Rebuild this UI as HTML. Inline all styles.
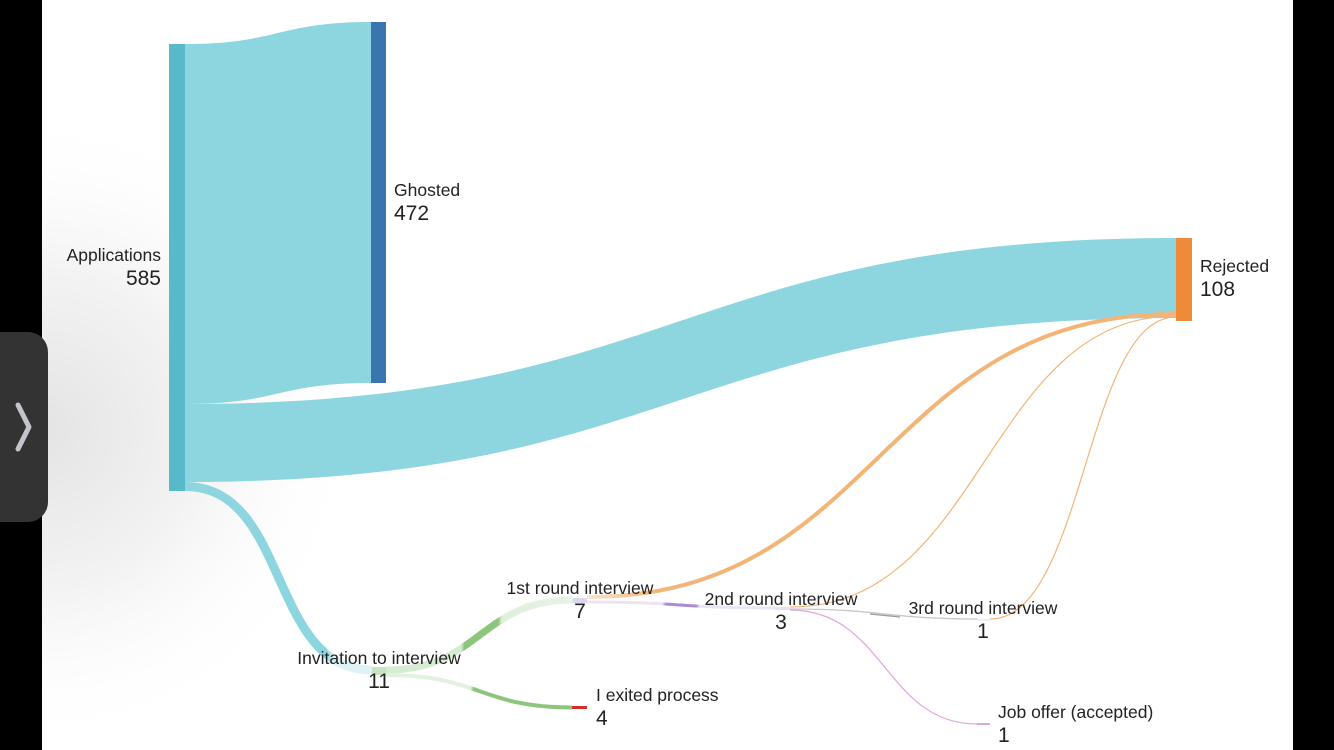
<!DOCTYPE html>
<html><head><meta charset="utf-8">
<style>
html,body{margin:0;padding:0;background:#000;}
#wrap{position:relative;width:1334px;height:750px;overflow:hidden;background:#000;}
#page{position:absolute;left:42px;top:0;width:1251px;height:750px;background:#fff;}
svg{position:absolute;left:0;top:0;}
.t{font-family:"Liberation Sans",Arial,sans-serif;fill:#222;}
</style></head><body>
<div id="wrap">
<div id="page"></div>
<svg width="1334" height="750" viewBox="0 0 1334 750">
<defs>
<radialGradient id="sh" cx="42" cy="430" r="320" gradientUnits="userSpaceOnUse">
<stop offset="0" stop-color="#e4e4e4"/><stop offset="0.5" stop-color="#f3f3f3"/><stop offset="1" stop-color="#ffffff" stop-opacity="0"/>
</radialGradient>
<linearGradient id="g1" x1="386" x2="573" y1="0" y2="0" gradientUnits="userSpaceOnUse">
<stop offset="0" stop-color="#d6ecd2"/><stop offset="0.4" stop-color="#d6ecd2"/><stop offset="0.42" stop-color="#8cc57c"/><stop offset="0.6" stop-color="#8cc57c"/><stop offset="0.62" stop-color="#dff0db"/><stop offset="1" stop-color="#e6f3e3"/>
</linearGradient>
<linearGradient id="g2" x1="386" x2="573" y1="0" y2="0" gradientUnits="userSpaceOnUse">
<stop offset="0" stop-color="#e3f2e0"/><stop offset="0.45" stop-color="#e3f2e0"/><stop offset="0.47" stop-color="#8cc57c"/><stop offset="1" stop-color="#8cc57c"/>
</linearGradient>
<linearGradient id="g3" x1="185" x2="372" y1="0" y2="0" gradientUnits="userSpaceOnUse">
<stop offset="0" stop-color="#8dd6e0"/><stop offset="0.75" stop-color="#8dd6e0"/><stop offset="0.8" stop-color="#dff2f6"/><stop offset="1" stop-color="#dff2f6"/>
</linearGradient>
<linearGradient id="g4" x1="587" x2="1176" y1="0" y2="0" gradientUnits="userSpaceOnUse">
<stop offset="0" stop-color="#fbe4cc"/><stop offset="0.12" stop-color="#f2b577"/><stop offset="1" stop-color="#f2b577"/>
</linearGradient>
<linearGradient id="g5" x1="587" x2="775" y1="0" y2="0" gradientUnits="userSpaceOnUse">
<stop offset="0" stop-color="#ebe4f5"/><stop offset="0.4" stop-color="#ebe4f5"/><stop offset="0.42" stop-color="#a88bd0"/><stop offset="0.58" stop-color="#a88bd0"/><stop offset="0.6" stop-color="#ebe4f5"/><stop offset="1" stop-color="#ebe4f5"/>
</linearGradient>
</defs>
<rect x="42" y="0" width="1251" height="750" fill="url(#sh)"/>
<path d="M185,44 C278,44 278,22 371,22 L371,383 C278,383 278,404 185,404 Z" fill="#8dd6e0"/>
<path d="M185,404 C680,404 680,238 1176,238 L1176,318 C680,318 680,482 185,482 Z" fill="#8dd6e0"/>
<path d="M185,486.5 C290,486.5 268,670 372,670" fill="none" stroke="url(#g3)" stroke-width="9"/>
<path d="M386,670 C480,670 480,600 573,600" fill="none" stroke="url(#g1)" stroke-width="7"/>
<path d="M386,675 C480,675 480,707.5 572,707.5" fill="none" stroke="url(#g2)" stroke-width="4"/>
<path d="M587,597 C880,597 880,314 1176,314" fill="none" stroke="url(#g4)" stroke-width="4"/>
<path d="M587,602 C680,602 680,608 775,608" fill="none" stroke="url(#g5)" stroke-width="3"/>
<path d="M790,607 C985,607 985,316 1176,316" fill="none" stroke="#f2b577" stroke-width="1.2"/>
<path d="M790,609 C885,609 885,619 977,619" fill="none" stroke="#c8c8c8" stroke-width="1.3"/>
<path d="M870,614 L900,617" stroke="#999" stroke-width="1.3"/>
<path d="M790,610 C885,610 885,724 977,724" fill="none" stroke="#e0a6dc" stroke-width="1.2"/>
<path d="M990,619 C1085,619 1085,317 1176,317" fill="none" stroke="#f2b577" stroke-width="1.2"/>
<rect x="169" y="44" width="16" height="447" fill="#58b9ca"/>
<rect x="371" y="22" width="15" height="361" fill="#3a75b0"/>
<rect x="1176" y="238" width="16" height="83" fill="#ef8a38"/>
<rect x="372" y="667" width="14" height="8" fill="#c8e4c1"/>
<rect x="573" y="598" width="14" height="5" fill="#ddd4ee"/>
<rect x="572" y="706" width="15" height="3" fill="#d62c2c"/>
<rect x="775" y="607" width="15" height="3" fill="#e8e0f2"/>
<rect x="977" y="619" width="13" height="2" fill="#eee"/>
<rect x="977" y="723" width="13" height="2" fill="#e0a6dc"/>
<text class="t" x="161" y="261" font-size="17.5" text-anchor="end">Applications</text>
<text class="t" x="161" y="285" font-size="21" text-anchor="end">585</text>
<text class="t" x="394" y="196" font-size="17.5">Ghosted</text>
<text class="t" x="394" y="220" font-size="21">472</text>
<text class="t" x="1200" y="272" font-size="17.5">Rejected</text>
<text class="t" x="1200" y="296" font-size="21">108</text>
<text class="t" x="379" y="664" font-size="17.5" text-anchor="middle">Invitation to interview</text>
<text class="t" x="379" y="688" font-size="21" text-anchor="middle">11</text>
<text class="t" x="580" y="594" font-size="17.5" text-anchor="middle">1st round interview</text>
<text class="t" x="580" y="618" font-size="21" text-anchor="middle">7</text>
<text class="t" x="781" y="605" font-size="17.5" text-anchor="middle">2nd round interview</text>
<text class="t" x="781" y="629" font-size="21" text-anchor="middle">3</text>
<text class="t" x="983" y="614" font-size="17.5" text-anchor="middle">3rd round interview</text>
<text class="t" x="983" y="638" font-size="21" text-anchor="middle">1</text>
<text class="t" x="596" y="701" font-size="17.5">I exited process</text>
<text class="t" x="596" y="725" font-size="21">4</text>
<text class="t" x="998" y="718" font-size="17.5">Job offer (accepted)</text>
<text class="t" x="998" y="742" font-size="21">1</text>
<rect x="-20" y="332" width="68" height="190" rx="20" fill="#333"/>
<path d="M18,405 L29,427 L18,449" fill="none" stroke="#c4c4cc" stroke-width="5" stroke-linecap="round" stroke-linejoin="round"/>
</svg>
</div>
</body></html>
